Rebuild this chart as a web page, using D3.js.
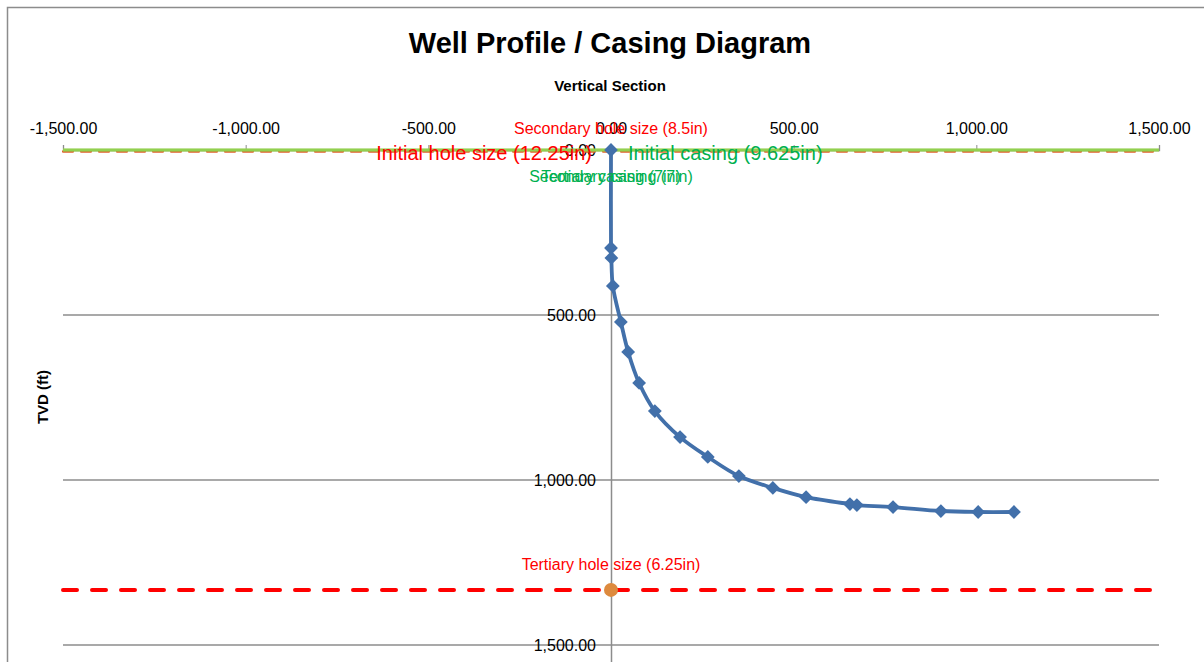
<!DOCTYPE html>
<html>
<head>
<meta charset="utf-8">
<script src="https://cdn.jsdelivr.net/npm/d3@7/dist/d3.min.js"></script>
<style>
  html, body { margin: 0; padding: 0; background: #fff; overflow: hidden; }
  svg { display: block; font-family: "Liberation Sans", Arial, sans-serif; }
</style>
</head>
<body>
<svg id="chart" width="1204" height="662"></svg>
<script>
// ---- Data ----
const vsValues  = [0, 0, 1, 5, 27, 47, 77, 120, 189, 265, 350, 443, 534, 654, 673, 772, 903, 1005, 1103];
const tvdValues = [0, 297, 327, 412, 521, 612, 706, 791, 870, 930, 988, 1024, 1052, 1073, 1076, 1082, 1094, 1097, 1097];

const holeLabels = ["Initial hole size (12.25in)", "Secondary hole size (8.5in)", "Tertiary hole size (6.25in)"];
const holeDepths = [0, 0, 1333];

const casingLabels = ["Initial casing (9.625in)", "Secondary casing (7in)", "Tertiary casing (7in)"];
const casingDepths = [0, 0, 0];

const xTicks = [-1500, -1000, -500, 0, 500, 1000, 1500];
const yTicks = [0, 500, 1000, 1500];

const titleText = "Well Profile / Casing Diagram";
const xTitle = "Vertical Section";
const yTitle = "TVD (ft)";

// ---- Layout ----
const svg = d3.select("#chart");
const x = d3.scaleLinear().domain([-1500, 1500]).range([63, 1159]);
const y = d3.scaleLinear().domain([0, 2000]).range([150, 810]);
const fmt = d3.formatLocale({decimal: ".", thousands: ",", grouping: [3], currency: ["", ""], minus: "-"}).format(",.2f");

// outer chart border (extends beyond visible area)
svg.append("path")
  .attr("d", "M7.5,700 L7.5,7.5 L1300,7.5")
  .attr("fill", "none").attr("stroke", "#8c8c8c").attr("stroke-width", 1.5);

// titles
svg.append("text").attr("x", 610).attr("y", 53).attr("text-anchor", "middle")
  .attr("font-size", 29).attr("font-weight", "bold").attr("fill", "#000").text(titleText);
svg.append("text").attr("x", 610).attr("y", 91).attr("text-anchor", "middle")
  .attr("font-size", 15).attr("font-weight", "bold").attr("fill", "#000").text(xTitle);
svg.append("text").attr("transform", "translate(48,397) rotate(-90)").attr("text-anchor", "middle")
  .attr("font-size", 15).attr("font-weight", "bold").attr("fill", "#000").text(yTitle);

// horizontal gridlines
svg.append("g").selectAll("line").data(yTicks.filter(d => d > 0)).join("line")
  .attr("x1", x(-1500)).attr("x2", x(1500))
  .attr("y1", d => y(d)).attr("y2", d => y(d))
  .attr("stroke", "#8c8c8c").attr("stroke-width", 1.3);

// y axis at x = 0
const yAxis = svg.append("g").attr("transform", `translate(${x(0)},0)`)
  .call(d3.axisLeft(y).tickValues(yTicks).tickFormat(fmt).tickSize(0).tickSizeOuter(0).tickPadding(15));
yAxis.select(".domain").attr("stroke", "#8c8c8c").attr("stroke-width", 1.5);
yAxis.selectAll("text").attr("font-size", 16).attr("fill", "#000")
  .attr("font-family", "Liberation Sans, Arial, sans-serif");

// x axis at top (y = 0)
const xAxis = svg.append("g").attr("transform", `translate(0,${y(0)})`)
  .call(d3.axisTop(x).tickValues(xTicks).tickFormat(fmt).tickSize(5).tickSizeOuter(5).tickPadding(11));
xAxis.select(".domain").attr("stroke", "#8c8c8c").attr("stroke-width", 1.3);
xAxis.selectAll(".tick line").attr("stroke", "#8c8c8c");
xAxis.selectAll("text").attr("font-size", 16).attr("fill", "#000")
  .attr("font-family", "Liberation Sans, Arial, sans-serif");

// hole size lines (red dashed)
const holeData = holeLabels.map((l, i) => ({label: l, depth: holeDepths[i]}));
svg.append("g").selectAll("line").data(holeData).join("line")
  .attr("x1", x(-1500)).attr("x2", x(1500))
  .attr("y1", d => y(d.depth) + (d.depth === 0 ? 1.5 : 0))
  .attr("y2", d => y(d.depth) + (d.depth === 0 ? 1.5 : 0))
  .attr("stroke", d => d.depth === 0 ? "#e0602a" : "#ff0000")
  .attr("stroke-width", d => d.depth === 0 ? 2 : 4)
  .attr("stroke-dasharray", d => d.depth === 0 ? "10,8" : "14,15")
  .attr("stroke-linecap", "round");

// casing lines (green solid)
const casingData = casingLabels.map((l, i) => ({label: l, depth: casingDepths[i]}));
svg.append("g").selectAll("line").data(casingData).join("line")
  .attr("x1", x(-1500)).attr("x2", x(1500))
  .attr("y1", d => y(d.depth)).attr("y2", d => y(d.depth))
  .attr("stroke", "#92d050").attr("stroke-width", 2.5);

// well path
const pts = vsValues.map((v, i) => [v, tvdValues[i]]);
const line = d3.line().x(d => x(d[0])).y(d => y(d[1])).curve(d3.curveCatmullRom.alpha(0.5));
svg.append("path").datum(pts).attr("d", line)
  .attr("fill", "none").attr("stroke", "#4270aa").attr("stroke-width", 3.8)
  .attr("stroke-linejoin", "round");
const sym = d3.symbol().type(d3.symbolSquare).size(95);
svg.append("g").selectAll("path").data(pts).join("path")
  .attr("d", sym)
  .attr("transform", d => `translate(${x(d[0])},${y(d[1])}) rotate(45)`)
  .attr("fill", "#4270aa");

// marker for tertiary hole size
svg.append("circle").attr("cx", x(0)).attr("cy", y(holeDepths[2])).attr("r", 7)
  .attr("fill", "#dd8a3e");

// labels
const lab = (txt, xx, yy, anchor, size, color) =>
  svg.append("text").attr("x", xx).attr("y", yy).attr("text-anchor", anchor)
    .attr("font-size", size).attr("fill", color).text(txt);

lab(holeLabels[1], x(0), y(holeDepths[1]) - 16, "middle", 16, "#ff0000");
lab(holeLabels[0], x(0) - 19, y(holeDepths[0]) + 10, "end", 20, "#ff0000");
lab(casingLabels[0], x(0) + 17, y(casingDepths[0]) + 10, "start", 20, "#00b050");
lab(casingLabels[1], x(0), y(casingDepths[1]) + 32, "middle", 16, "#00b050");
lab(casingLabels[2], x(0), y(casingDepths[2]) + 32, "middle", 16, "#00b050");
lab(holeLabels[2], x(0), y(holeDepths[2]) - 20, "middle", 16, "#ff0000");
</script>
</body>
</html>
